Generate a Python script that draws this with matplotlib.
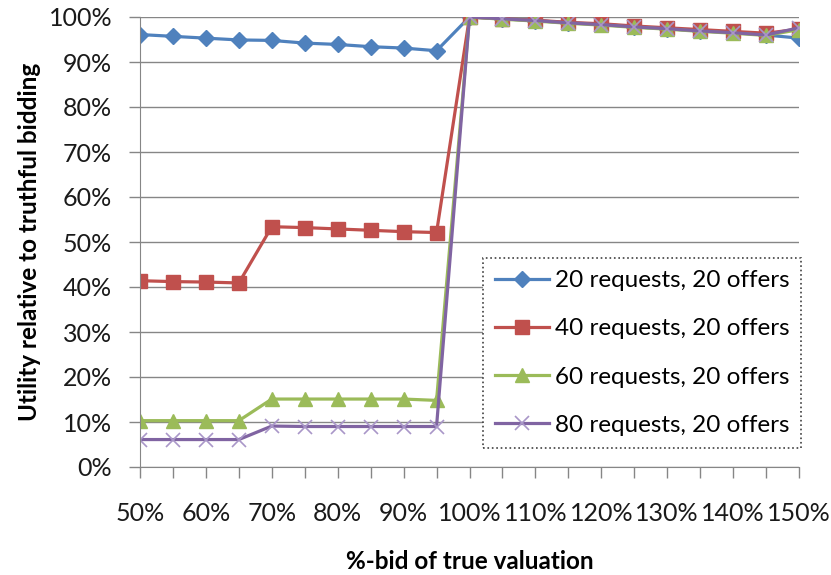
import matplotlib.pyplot as plt

plt.rcParams['font.family'] = ['Lato', 'DejaVu Sans']

bid = [50, 55, 60, 65, 70, 75, 80, 85, 90, 95, 100,
       105, 110, 115, 120, 125, 130, 135, 140, 145, 150]

req20 = [96.1, 95.7, 95.3, 94.9, 94.8, 94.2, 93.9, 93.4, 93.1, 92.5, 100,
         99.6, 99.2, 98.7, 98.4, 97.8, 97.4, 96.9, 96.6, 96.0, 95.3]
req40 = [41.4, 41.2, 41.1, 40.9, 53.4, 53.2, 52.9, 52.6, 52.3, 52.1, 100,
         99.6, 99.3, 98.8, 98.5, 98.0, 97.6, 97.2, 96.8, 96.4, 97.3]
req60 = [10.3, 10.3, 10.3, 10.3, 15.1, 15.1, 15.1, 15.1, 15.1, 14.8, 100,
         99.5, 99.1, 98.6, 98.2, 97.7, 97.3, 96.8, 96.4, 95.9, 97.2]
req80 = [6.1, 6.1, 6.1, 6.1, 9.1, 9.0, 9.0, 9.0, 9.0, 9.0, 100,
         99.6, 99.2, 98.7, 98.3, 97.8, 97.4, 96.9, 96.5, 96.0, 97.6]

labels = ["20 requests, 20 offers", "40 requests, 20 offers",
          "60 requests, 20 offers", "80 requests, 20 offers"]

fig = plt.figure(figsize=(8.31, 5.75), dpi=100)
ax = fig.add_axes([140 / 831, 1 - 467 / 575, 659 / 831, 450 / 575])

ax.plot(bid, req20, color="#4F81BD", lw=2.3, marker="D", ms=8, label=labels[0])
ax.plot(bid, req40, color="#C0504D", lw=2.3, marker="s", ms=10, label=labels[1])
ax.plot(bid, req60, color="#9BBB59", lw=2.3, marker="^", ms=10, label=labels[2])
ax.plot(bid, req80, color="#8064A2", lw=2.3, marker="x", ms=10,
        mec="#A996C8", mew=1.2, label=labels[3])

ax.set_xlim(50, 150)
ax.set_ylim(0, 100)
ax.set_xticks(range(50, 151, 10))
ax.set_xticklabels([f"{v}%" for v in range(50, 151, 10)])
ax.set_xticks(bid, minor=True)
ax.set_yticks(range(0, 101, 10))
ax.set_yticklabels([f"{v}%" for v in range(0, 101, 10)])

grey = "#868686"
ax.grid(axis="y", color=grey, lw=1)
ax.set_axisbelow(True)
for s in ["top", "right"]:
    ax.spines[s].set_visible(False)
for s in ["left", "bottom"]:
    ax.spines[s].set_color(grey)
ax.tick_params(axis="both", which="both", color=grey, length=8, width=1,
               labelsize=18, labelcolor="#1a1a1a")
ax.tick_params(axis="x", which="major", pad=17)
ax.tick_params(axis="y", pad=12)

ax.set_xlabel("%-bid of true valuation", fontsize=17.5, fontweight="bold")
ax.set_ylabel("Utility relative to truthful bidding", fontsize=17.5, fontweight="bold")
ax.xaxis.label.set_va("center")
ax.yaxis.label.set_va("center")
ax.xaxis.set_label_coords(0.5, -0.211)
ax.yaxis.set_label_coords(-0.167, 0.5)

leg = ax.legend(loc="upper left", bbox_to_anchor=(483 / 831, 1 - 258 / 575),
                bbox_transform=fig.transFigure, borderaxespad=0, fancybox=False,
                fontsize=17.5, handlelength=2.2, handletextpad=0.25,
                labelspacing=1.12, borderpad=0.5, framealpha=1)
leg.get_frame().set_edgecolor("#404040")
leg.get_frame().set_linestyle(":")
leg.get_frame().set_linewidth(1.2)

fig.savefig("out.png", dpi=100)
